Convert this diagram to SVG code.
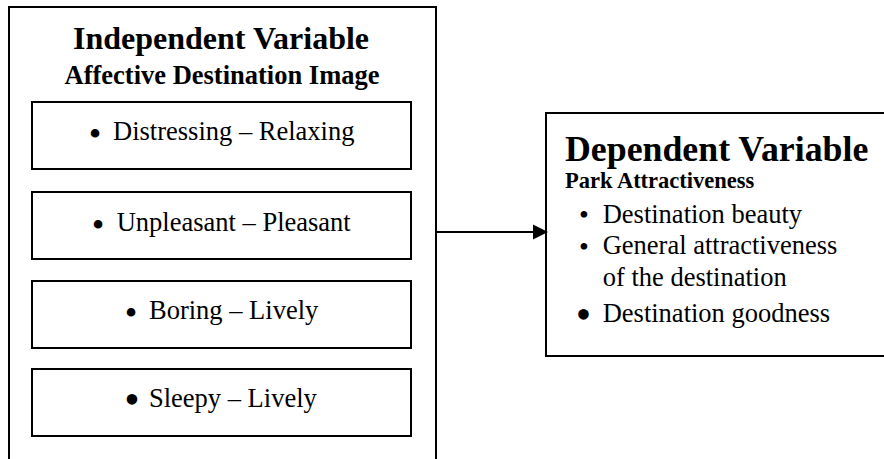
<svg xmlns="http://www.w3.org/2000/svg" width="884" height="459" viewBox="0 0 884 459">
<style>
.box{fill:#fff;stroke:#000;stroke-width:2}
.t{font-family:"Liberation Serif","Times New Roman",serif;fill:#000}
.h1{font-size:32px;font-weight:bold}
.h1r{font-size:35.8px;font-weight:bold}
.h2{font-size:26.5px;font-weight:bold}
.h2r{font-size:22.5px;font-weight:bold}
.b{font-size:26.5px}
.dot{font-size:36px}
.dots{font-size:28px}
.dotl{font-size:44px}
</style>
<rect width="884" height="459" fill="#fff"/>
<g id="independent">
<rect class="box" x="9" y="7" width="427" height="500"/>
<text class="t h1" x="221" y="49" text-anchor="middle">Independent Variable</text>
<text class="t h2" x="222" y="84" text-anchor="middle">Affective Destination Image</text>
</g>
<g id="item1">
<rect class="box" x="32" y="102" width="379" height="67"/>
<text class="t b" y="140"><tspan class="dot" x="88.7" dy="6">•</tspan><tspan x="113" dy="-6">Distressing – Relaxing</tspan></text>
</g>
<g id="item2">
<rect class="box" x="32" y="192" width="379" height="67"/>
<text class="t b" y="231"><tspan class="dot" x="91.7" dy="6">•</tspan><tspan x="116.7" dy="-6">Unpleasant – Pleasant</tspan></text>
</g>
<g id="item3">
<rect class="box" x="32" y="281" width="379" height="67"/>
<text class="t b" y="318.5"><tspan class="dot" x="124.7" dy="6">•</tspan><tspan x="149" dy="-6">Boring – Lively</tspan></text>
</g>
<g id="item4">
<rect class="box" x="32" y="369" width="379" height="67"/>
<text class="t b" y="406.7"><tspan class="dotl" x="124.3" dy="7.3">•</tspan><tspan x="149" dy="-7.3">Sleepy – Lively</tspan></text>
</g>
<g id="dependent">
<rect class="box" x="546" y="113" width="340" height="243"/>
<text class="t h1r" x="565" y="161">Dependent Variable</text>
<text class="t h2r" x="565" y="188">Park Attractiveness</text>
<text class="t b" y="222.5"><tspan class="dots" x="578.9" dy="1.8">•</tspan><tspan x="602.7" dy="-1.8">Destination beauty</tspan></text>
<text class="t b" y="254"><tspan class="dots" x="578.9" dy="1.8">•</tspan><tspan x="602.7" dy="-1.8">General attractiveness</tspan></text>
<text class="t b" x="602.7" y="286">of the destination</text>
<text class="t b" y="321.7"><tspan class="dotl" x="575.8" dy="7.3">•</tspan><tspan x="602.7" dy="-7.3">Destination goodness</tspan></text>
</g>
<g id="connectors">
<line x1="436" y1="232" x2="536" y2="232" stroke="#000" stroke-width="2"/>
<polygon points="533,224.5 548,232 533,239.5" fill="#000"/>
</g>
</svg>
